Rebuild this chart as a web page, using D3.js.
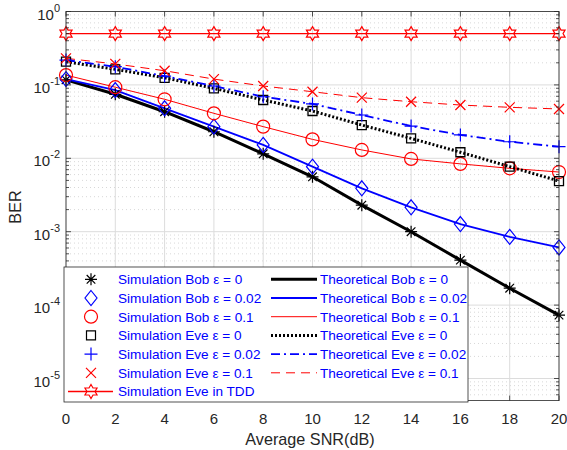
<!DOCTYPE html>
<html lang="en">
  <head>
    <meta charset="UTF-8" />
    <title>BER vs SNR</title>
    <script src="https://d3js.org/d3.v7.min.js" charset="utf-8"></script>
    <style>
      body { margin: 0; background: #fff; }
      text { font-family: "Liberation Sans", Arial, sans-serif; }
    </style>
  </head>
  <body>
    <svg class="chart"></svg>
    <script>
      // x values (dB)
      let snr = [0, 2, 4, 6, 8, 10, 12, 14, 16, 18, 20];

      // BER
      let bobEps0 = [0.117, 0.0745, 0.0431, 0.023, 0.0115, 0.0056, 0.0023, 0.001, 0.00041, 0.00017, 0.000073];
      let bobEps002 = [0.12, 0.085, 0.048, 0.027, 0.0152, 0.0077, 0.0039, 0.00215, 0.00127, 0.00085, 0.00061];
      let bobEps01 = [0.136, 0.093, 0.0637, 0.041, 0.027, 0.0181, 0.013, 0.0098, 0.0084, 0.0073, 0.0065];
      let eveEps0 = [0.207, 0.163, 0.125, 0.0898, 0.0623, 0.0441, 0.0284, 0.0187, 0.0121, 0.0077, 0.0049];
      let eveEps002 = [0.218, 0.177, 0.132, 0.0966, 0.069, 0.055, 0.0389, 0.0275, 0.0208, 0.0168, 0.0144];
      let eveEps01 = [0.23, 0.193, 0.156, 0.12, 0.0966, 0.0807, 0.067, 0.059, 0.0532, 0.0495, 0.047];
      let eveTdd = [0.5, 0.5, 0.5, 0.5, 0.5, 0.5, 0.5, 0.5, 0.5, 0.5, 0.5];

      let xTicks = [0, 2, 4, 6, 8, 10, 12, 14, 16, 18, 20];
      let yTicks = [1e-5, 1e-4, 1e-3, 1e-2, 1e-1, 1];

      let width = 567;
      let height = 450;
      let padL = 66, padR = 559, padT = 11.5, padB = 400.6;

      let svg = d3.select(".chart").attr("width", width).attr("height", height);

      let x = d3.scaleLinear().domain([0, 20]).range([padL, padR]);
      let y = d3.scaleLog().domain([5e-6, 1]).range([padB, padT]);

      let axisColor = "#262626";

      // minor y values
      let minor = [];
      for (let e = -6; e < 0; e++) {
        for (let k = 2; k <= 9; k++) {
          let v = k * Math.pow(10, e);
          if (v >= 5e-6 && v < 1) minor.push(v);
        }
      }

      // grid
      let grid = svg.append("g");
      grid.selectAll(".ymin").data(minor).enter().append("line")
        .attr("x1", padL).attr("x2", padR)
        .attr("y1", d => y(d)).attr("y2", d => y(d))
        .attr("stroke", "#bdbdbd").attr("stroke-width", 0.6)
        .attr("stroke-dasharray", "1,3");
      grid.selectAll(".ymaj").data(yTicks).enter().append("line")
        .attr("x1", padL).attr("x2", padR)
        .attr("y1", d => y(d)).attr("y2", d => y(d))
        .attr("stroke", "#dcdcdc").attr("stroke-width", 1);
      grid.selectAll(".xmaj").data(xTicks).enter().append("line")
        .attr("x1", d => x(d)).attr("x2", d => x(d))
        .attr("y1", padT).attr("y2", padB)
        .attr("stroke", "#dcdcdc").attr("stroke-width", 1);

      // marker shapes
      function markerPath(type) {
        if (type === "asterisk") {
          let s = 6, d = 4.3;
          return `M${-s},0L${s},0M0,${-s}L0,${s}M${-d},${-d}L${d},${d}M${-d},${d}L${d},${-d}`;
        }
        if (type === "diamond") return "M0,-7.5L6,0L0,7.5L-6,0Z";
        if (type === "circle") return "M6.5,0A6.5,6.5 0 1,1 -6.5,0A6.5,6.5 0 1,1 6.5,0Z";
        if (type === "square") return "M-4.5,-4.5L4.5,-4.5L4.5,4.5L-4.5,4.5Z";
        if (type === "plus") return "M-6.5,0L6.5,0M0,-6.5L0,6.5";
        if (type === "cross") return "M-5,-5L5,5M-5,5L5,-5";
        if (type === "hexagram") {
          let r = 7, ri = r / Math.sqrt(3), pts = [];
          for (let i = 0; i < 12; i++) {
            let a = -Math.PI / 2 + (i * Math.PI) / 6;
            let rr = i % 2 === 0 ? r : ri;
            pts.push([rr * Math.cos(a), rr * Math.sin(a)]);
          }
          return "M" + pts.map(p => p[0].toFixed(2) + "," + p[1].toFixed(2)).join("L") + "Z";
        }
        return "";
      }

      let theory = [
        { name: "Theoretical Bob ε = 0", values: bobEps0, color: "#000", width: 3, dash: null },
        { name: "Theoretical Bob ε = 0.02", values: bobEps002, color: "#0000ff", width: 1.8, dash: null },
        { name: "Theoretical Bob ε = 0.1", values: bobEps01, color: "#ff0000", width: 1, dash: null },
        { name: "Theoretical Eve ε = 0", values: eveEps0, color: "#000", width: 3, dash: "2,2" },
        { name: "Theoretical Eve ε = 0.02", values: eveEps002, color: "#0000ff", width: 1.8, dash: "9,4,2,4" },
        { name: "Theoretical Eve ε = 0.1", values: eveEps01, color: "#ff0000", width: 1, dash: "9,6" }
      ];

      let sims = [
        { name: "Simulation Bob ε = 0", values: bobEps0, color: "#000", marker: "asterisk", line: false },
        { name: "Simulation Bob ε = 0.02", values: bobEps002, color: "#0000ff", marker: "diamond", line: false },
        { name: "Simulation Bob ε = 0.1", values: bobEps01, color: "#ff0000", marker: "circle", line: false },
        { name: "Simulation Eve ε = 0", values: eveEps0, color: "#000", marker: "square", line: false },
        { name: "Simulation Eve ε = 0.02", values: eveEps002, color: "#0000ff", marker: "plus", line: false },
        { name: "Simulation Eve ε = 0.1", values: eveEps01, color: "#ff0000", marker: "cross", line: false },
        { name: "Simulation Eve in TDD", values: eveTdd, color: "#ff0000", marker: "hexagram", line: true }
      ];

      let line = d3.line().x((d, i) => x(snr[i])).y(d => y(d));

      // TDD line
      svg.append("path")
        .attr("d", line(eveTdd))
        .attr("fill", "none").attr("stroke", "#ff0000").attr("stroke-width", 1.3);

      svg.selectAll(".theory").data(theory).enter().append("path")
        .attr("d", d => line(d.values))
        .attr("fill", "none")
        .attr("stroke", d => d.color)
        .attr("stroke-width", d => d.width)
        .attr("stroke-dasharray", d => d.dash);

      sims.forEach(s => {
        svg.append("g").selectAll("path").data(s.values).enter().append("path")
          .attr("transform", (d, i) => "translate(" + x(snr[i]) + "," + y(d) + ")")
          .attr("d", markerPath(s.marker))
          .attr("fill", "none")
          .attr("stroke", s.color)
          .attr("stroke-width", s.marker === "square" ? 1.3 : 1.2);
      });

      // axes box and ticks
      let ax = svg.append("g").attr("stroke", axisColor).attr("stroke-width", 0.8);
      ax.append("rect").attr("x", padL).attr("y", padT)
        .attr("width", padR - padL).attr("height", padB - padT)
        .attr("fill", "none");
      ax.selectAll(".xt").data(xTicks).enter().append("path")
        .attr("d", d => `M${x(d)},${padB}v-5M${x(d)},${padT}v5`);
      ax.selectAll(".yt").data(yTicks).enter().append("path")
        .attr("d", d => `M${padL},${y(d)}h5M${padR},${y(d)}h-5`);
      ax.selectAll(".ym").data(minor).enter().append("path")
        .attr("d", d => `M${padL},${y(d)}h3M${padR},${y(d)}h-3`);

      // tick labels
      svg.selectAll(".xl").data(xTicks).enter().append("text")
        .attr("x", d => x(d)).attr("y", 424)
        .attr("text-anchor", "middle")
        .attr("font-size", 15).attr("fill", axisColor)
        .text(d => d);

      let yl = svg.selectAll(".yl").data(yTicks).enter().append("text")
        .attr("x", 60).attr("y", d => y(d) + 8)
        .attr("text-anchor", "end")
        .attr("font-size", 15).attr("fill", axisColor);
      yl.append("tspan").text("10");
      yl.append("tspan").attr("dy", -8).attr("font-size", 11)
        .text(d => Math.round(Math.log10(d)) === 0 ? "0" : "-" + Math.abs(Math.round(Math.log10(d))));

      svg.append("text")
        .attr("x", 310).attr("y", 445)
        .attr("text-anchor", "middle")
        .attr("font-size", 16.2).attr("fill", axisColor)
        .text("Average SNR(dB)");

      svg.append("text")
        .attr("transform", "translate(21,207) rotate(-90)")
        .attr("text-anchor", "middle")
        .attr("font-size", 16.2).attr("fill", axisColor)
        .text("BER");

      // legend
      let lg = svg.append("g");
      lg.append("rect")
        .attr("x", 64).attr("y", 267).attr("width", 404).attr("height", 135)
        .attr("fill", "#fff").attr("stroke", axisColor).attr("stroke-width", 0.8);
      let rowY = i => 279.3 + i * 18.7;

      sims.forEach((s, i) => {
        if (s.line) {
          lg.append("line").attr("x1", 68).attr("x2", 113)
            .attr("y1", rowY(i)).attr("y2", rowY(i))
            .attr("stroke", s.color).attr("stroke-width", 1.3);
        }
        lg.append("path")
          .attr("transform", "translate(91," + rowY(i) + ")")
          .attr("d", markerPath(s.marker))
          .attr("fill", "none").attr("stroke", s.color)
          .attr("stroke-width", 1.2);
        lg.append("text")
          .attr("x", 118).attr("y", rowY(i)).attr("dy", "0.36em")
          .attr("font-size", 13.6).attr("fill", "#0000ff")
          .text(s.name);
      });

      theory.forEach((t, i) => {
        lg.append("line").attr("x1", 271).attr("x2", 317)
          .attr("y1", rowY(i)).attr("y2", rowY(i))
          .attr("stroke", t.color).attr("stroke-width", t.width)
          .attr("stroke-dasharray", t.dash);
        lg.append("text")
          .attr("x", 320).attr("y", rowY(i)).attr("dy", "0.36em")
          .attr("font-size", 13.6).attr("fill", "#0000ff")
          .text(t.name);
      });
    </script>
  </body>
</html>
